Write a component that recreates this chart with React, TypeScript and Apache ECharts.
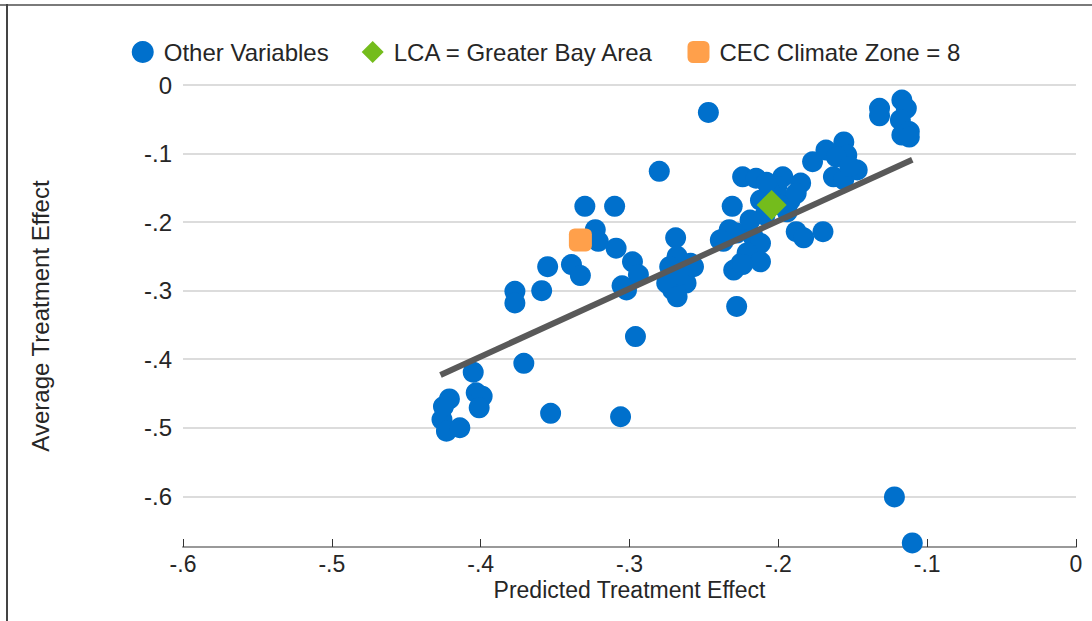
import React, { useEffect, useRef } from "react";
import * as echarts from "echarts";

const otherX = [
  -0.426, -0.423, -0.414, -0.421, -0.425, -0.405, -0.403, -0.399, -0.401, -0.371,
  -0.353, -0.306, -0.296, -0.377, -0.377, -0.359, -0.355, -0.339, -0.333, -0.330,
  -0.310, -0.323, -0.321, -0.309, -0.298, -0.294, -0.302, -0.305, -0.280, -0.247,
  -0.269, -0.268, -0.273, -0.271, -0.262, -0.259, -0.275, -0.266, -0.268, -0.231,
  -0.228, -0.235, -0.237, -0.233, -0.230, -0.225, -0.228, -0.224, -0.215, -0.197,
  -0.185, -0.201, -0.206, -0.192, -0.188, -0.217, -0.212, -0.221, -0.212, -0.224,
  -0.188, -0.183, -0.170, -0.212, -0.209, -0.199, -0.219, -0.177, -0.168, -0.156,
  -0.154, -0.147, -0.163, -0.156, -0.161, -0.152, -0.132, -0.132, -0.117, -0.114,
  -0.118, -0.117, -0.112, -0.112, -0.122, -0.110, -0.239, -0.257, -0.208, -0.194,
];
const otherY = [
  -0.488, -0.505, -0.500, -0.458, -0.469, -0.419, -0.449, -0.454, -0.471, -0.406,
  -0.479, -0.484, -0.367, -0.301, -0.318, -0.300, -0.265, -0.262, -0.278, -0.177,
  -0.177, -0.211, -0.228, -0.238, -0.258, -0.277, -0.299, -0.293, -0.126, -0.040,
  -0.223, -0.250, -0.265, -0.299, -0.289, -0.260, -0.289, -0.277, -0.309, -0.177,
  -0.216, -0.221, -0.228, -0.211, -0.270, -0.260, -0.323, -0.134, -0.136, -0.134,
  -0.143, -0.148, -0.153, -0.168, -0.158, -0.221, -0.231, -0.245, -0.258, -0.262,
  -0.214, -0.223, -0.214, -0.168, -0.190, -0.175, -0.197, -0.112, -0.095, -0.083,
  -0.102, -0.124, -0.134, -0.138, -0.105, -0.119, -0.034, -0.045, -0.022, -0.034,
  -0.051, -0.073, -0.068, -0.076, -0.601, -0.668, -0.226, -0.265, -0.142, -0.185,
];
const lcaX = [-0.2045];
const lcaY = [-0.175];
const cecX = [-0.333];
const cecY = [-0.226];
const fitX = [-0.427, -0.11];
const fitY = [-0.423, -0.109];

const seriesNames = ["Other Variables", "LCA = Greater Bay Area", "CEC Climate Zone = 8"];
const xTicks = [-0.6, -0.5, -0.4, -0.3, -0.2, -0.1, 0];

const FONT = "'Liberation Sans', Arial, sans-serif";

function fmt(v: number): string {
  const r = Math.round(v * 10);
  if (Math.abs(v * 10 - r) > 1e-6) return "";
  if (r === 0) return "0";
  return (r < 0 ? "-" : "") + "." + Math.abs(r);
}

function zip(xs: number[], ys: number[]) {
  return xs.map((x, i) => [x, ys[i]]);
}

export default function App() {
  const ref = useRef<HTMLDivElement>(null);
  useEffect(() => {
    document.body.style.margin = "0";
    if (!ref.current) return;
    const chart = echarts.init(ref.current, undefined, { renderer: "svg" });
    chart.setOption({
      animation: false,
      backgroundColor: "#ffffff",
      textStyle: { fontFamily: FONT },
      graphic: [
        { type: "line", shape: { x1: 0, y1: 5, x2: 1092, y2: 5 }, style: { stroke: "#7a7a7a", lineWidth: 2 }, z: 100 },
        { type: "line", shape: { x1: 7, y1: 4, x2: 7, y2: 621 }, style: { stroke: "#444444", lineWidth: 2 }, z: 100 },
      ],
      legend: {
        data: [
          { name: seriesNames[0], icon: "circle" },
          { name: seriesNames[1], icon: "diamond" },
          { name: seriesNames[2], icon: "roundRect" },
        ],
        top: 35,
        left: "center",
        itemWidth: 22,
        itemHeight: 22,
        itemGap: 33,
        textStyle: { fontSize: 24, color: "#262626", fontFamily: FONT, padding: [0, 0, 0, 5] },
      },
      grid: { left: 183, right: 16, top: 85, bottom: 74, containLabel: false },
      xAxis: {
        type: "value",
        min: xTicks[0],
        max: xTicks[xTicks.length - 1],
        interval: 0.1,
        name: "Predicted Treatment Effect",
        nameLocation: "middle",
        nameGap: 33,
        nameMoveOverlap: false,
        nameTextStyle: { fontSize: 23, color: "#262626", fontFamily: FONT, lineHeight: 20 },
        axisLine: { show: true, onZero: false, lineStyle: { color: "#999999", width: 2 } },
        axisTick: { show: true, inside: true, length: 8, lineStyle: { color: "#333333", width: 1 } },
        axisLabel: { formatter: fmt, fontSize: 23, lineHeight: 20, color: "#262626", margin: 7, fontFamily: FONT },
        splitLine: { show: false },
      },
      yAxis: {
        type: "value",
        min: -0.674,
        max: 0,
        name: "Average Treatment Effect",
        nameLocation: "middle",
        nameGap: 131,
        nameMoveOverlap: false,
        nameTextStyle: { fontSize: 24, color: "#262626", fontFamily: FONT },
        axisLine: { show: false },
        axisTick: { show: false },
        axisLabel: { formatter: fmt, fontSize: 24, color: "#262626", margin: 11, fontFamily: FONT },
        splitLine: { show: true, lineStyle: { color: "#dcdcdc", width: 2 } },
      },
      series: [
        {
          name: seriesNames[0],
          type: "scatter",
          symbol: "circle",
          symbolSize: 21,
          itemStyle: { color: "#0070cc", opacity: 1 },
          data: zip(otherX, otherY),
          z: 2,
        },
        {
          name: "fit",
          type: "line",
          data: zip(fitX, fitY),
          symbol: "none",
          lineStyle: { color: "#595959", width: 6 },
          itemStyle: { color: "#595959" },
          z: 3,
        },
        {
          name: seriesNames[1],
          type: "scatter",
          symbol: "diamond",
          symbolSize: 30,
          itemStyle: { color: "#74bc1c", opacity: 1 },
          data: zip(lcaX, lcaY),
          z: 4,
        },
        {
          name: seriesNames[2],
          type: "scatter",
          symbol: "roundRect",
          symbolSize: 23,
          itemStyle: { color: "#ffa04b", opacity: 1 },
          data: zip(cecX, cecY),
          z: 4,
        },
      ],
    });
    return () => chart.dispose();
  }, []);
  return <div ref={ref} style={{ width: 1092, height: 621 }} />;
}
